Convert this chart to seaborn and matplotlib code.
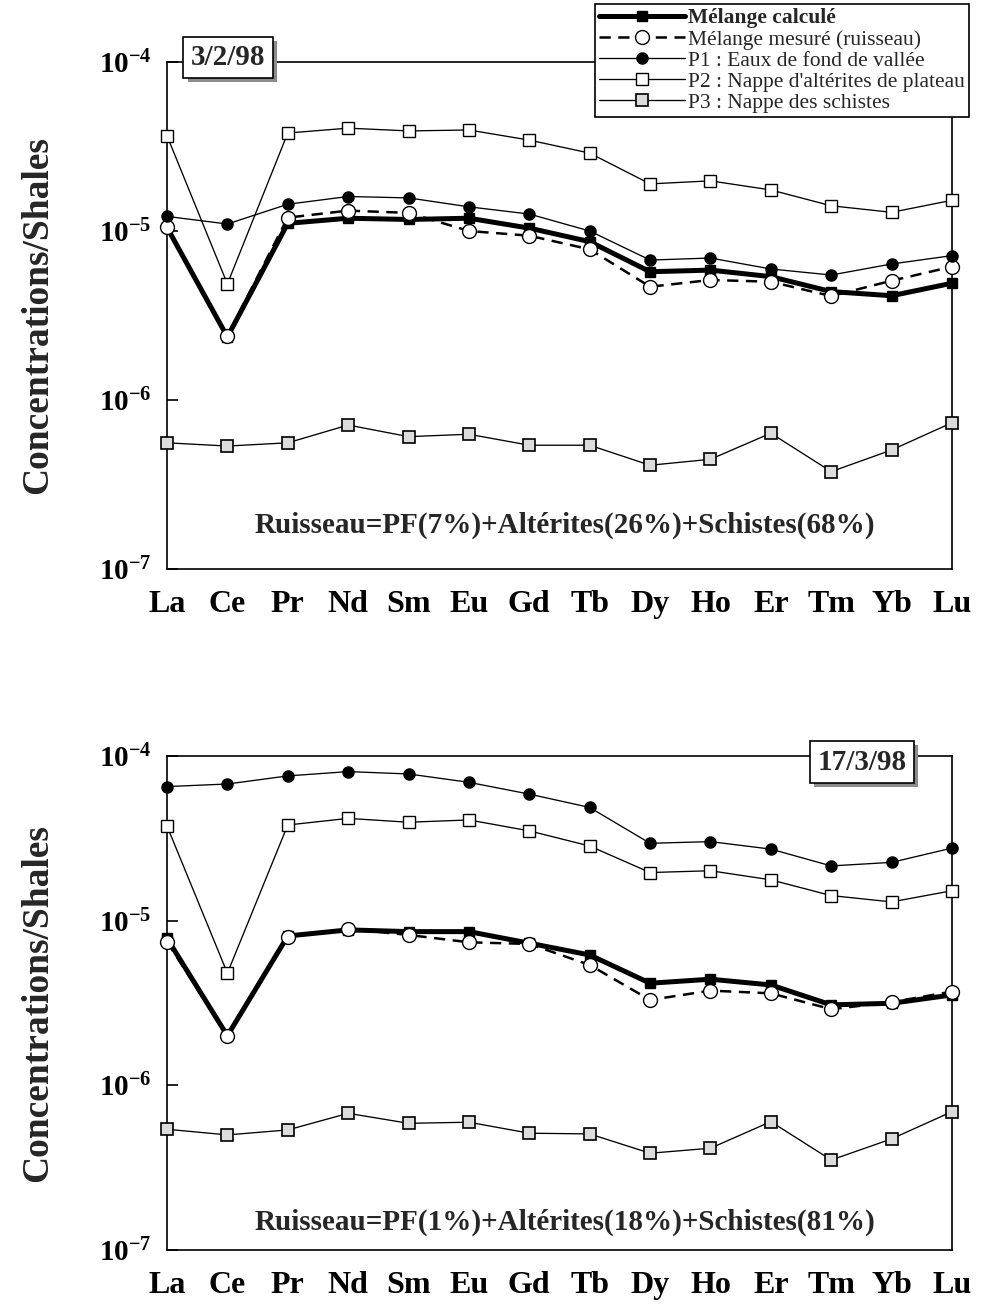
import numpy as np
import pandas as pd
import matplotlib
matplotlib.use('Agg')
import matplotlib.pyplot as plt
import matplotlib.patheffects as pe
from matplotlib.ticker import NullLocator
import seaborn as sns

# Style
sns.set_style("ticks")
plt.rcParams['font.family'] = ['Liberation Serif', 'DejaVu Serif']
plt.rcParams['mathtext.default'] = 'regular'

# Data
elements = ['La', 'Ce', 'Pr', 'Nd', 'Sm', 'Eu', 'Gd', 'Tb', 'Dy', 'Ho', 'Er', 'Tm', 'Yb', 'Lu']
y_ticks = [1e-7, 1e-6, 1e-5, 1e-4]
y_tick_labels = [r'$\mathdefault{10^{-7}}$', r'$\mathdefault{10^{-6}}$',
                 r'$\mathdefault{10^{-5}}$', r'$\mathdefault{10^{-4}}$']
series_names = ['Mélange calculé', 'Mélange mesuré (ruisseau)', 'P1 : Eaux de fond de vallée',
                "P2 : Nappe d'altérites de plateau", 'P3 : Nappe des schistes']

# 3/2/98
feb_calcule = [1.05e-5, 2.36e-6, 1.11e-5, 1.19e-5, 1.17e-5, 1.19e-5, 1.04e-5, 8.65e-6, 5.74e-6, 5.87e-6, 5.37e-6, 4.38e-6, 4.14e-6, 4.91e-6]
feb_mesure = [1.06e-5, 2.40e-6, 1.20e-5, 1.32e-5, 1.28e-5, 1.00e-5, 9.38e-6, 7.79e-6, 4.68e-6, 5.13e-6, 5.01e-6, 4.12e-6, 5.08e-6, 6.15e-6]
feb_p1 = [1.22e-5, 1.10e-5, 1.44e-5, 1.60e-5, 1.57e-5, 1.39e-5, 1.26e-5, 1.00e-5, 6.73e-6, 6.92e-6, 5.96e-6, 5.49e-6, 6.38e-6, 7.15e-6]
feb_p2 = [3.66e-5, 4.86e-6, 3.80e-5, 4.06e-5, 3.91e-5, 3.96e-5, 3.45e-5, 2.89e-5, 1.90e-5, 1.98e-5, 1.75e-5, 1.41e-5, 1.29e-5, 1.52e-5]
feb_p3 = [5.58e-7, 5.34e-7, 5.58e-7, 7.11e-7, 6.07e-7, 6.27e-7, 5.40e-7, 5.40e-7, 4.11e-7, 4.46e-7, 6.36e-7, 3.77e-7, 5.06e-7, 7.34e-7]

# 17/3/98
mar_calcule = [7.81e-6, 2.00e-6, 8.07e-6, 8.79e-6, 8.58e-6, 8.58e-6, 7.30e-6, 6.19e-6, 4.17e-6, 4.41e-6, 4.07e-6, 3.08e-6, 3.15e-6, 3.54e-6]
mar_mesure = [7.45e-6, 2.00e-6, 7.99e-6, 8.91e-6, 8.19e-6, 7.39e-6, 7.22e-6, 5.38e-6, 3.30e-6, 3.76e-6, 3.62e-6, 2.90e-6, 3.20e-6, 3.71e-6]
mar_p1 = [6.52e-5, 6.76e-5, 7.57e-5, 8.04e-5, 7.78e-5, 6.92e-5, 5.87e-5, 4.87e-5, 2.95e-5, 3.02e-5, 2.72e-5, 2.15e-5, 2.26e-5, 2.76e-5]
mar_p2 = [3.76e-5, 4.80e-6, 3.81e-5, 4.18e-5, 3.96e-5, 4.09e-5, 3.51e-5, 2.84e-5, 1.96e-5, 2.01e-5, 1.77e-5, 1.42e-5, 1.30e-5, 1.52e-5]
mar_p3 = [5.41e-7, 5.00e-7, 5.36e-7, 6.76e-7, 5.88e-7, 5.97e-7, 5.12e-7, 5.07e-7, 3.87e-7, 4.15e-7, 6.02e-7, 3.52e-7, 4.73e-7, 6.92e-7]

dates = ['3/2/98', '17/3/98']
notes = ['Ruisseau=PF(7%)+Altérites(26%)+Schistes(68%)',
         'Ruisseau=PF(1%)+Altérites(18%)+Schistes(81%)']
panels = [[feb_calcule, feb_mesure, feb_p1, feb_p2, feb_p3],
          [mar_calcule, mar_mesure, mar_p1, mar_p2, mar_p3]]

# line styles for each series (same order as series_names)
styles = [
    dict(lw=3.6, ls='-', marker='s', ms=6.5, mfc='black', mec='black'),
    dict(lw=1.8, ls=(0, (4.5, 3)), marker='o', ms=10, mfc='white', mec='black', mew=1.0),
    dict(lw=0.95, ls='-', marker='o', ms=8, mfc='black', mec='black'),
    dict(lw=0.95, ls='-', marker='s', ms=9, mfc='white', mec='black', mew=1.0),
    dict(lw=0.95, ls='-', marker='s', ms=8, mfc='#dcdcdc', mec='black', mew=1.2),
]

W, H = 996, 1304
fig = plt.figure(figsize=(W / 100, H / 100), dpi=100)
axes_px = [(62, 569), (756, 1250)]  # top/bottom pixel rows of each plot box
date_px = [(228, 57.5), (862, 762)]
note_py = [525, 1222]

x = np.arange(len(elements))
legend_lines = []
for i, (vals, (top, bot)) in enumerate(zip(panels, axes_px)):
    ax = fig.add_axes([167 / W, 1 - bot / H, 785 / W, (bot - top) / H])
    for j, (name, v, st) in enumerate(zip(series_names, vals, styles)):
        df = pd.DataFrame({'x': x, 'y': v})
        sns.lineplot(data=df, x='x', y='y', ax=ax, color='black', errorbar=None,
                     linewidth=st['lw'], linestyle=st['ls'], marker=st['marker'],
                     markersize=st['ms'], markerfacecolor=st['mfc'],
                     markeredgecolor=st['mec'], markeredgewidth=st.get('mew', 1.0),
                     clip_on=False, label=name, zorder=3 + j)
        if i == 0:
            legend_lines.append(ax.lines[-1])
    if ax.get_legend() is not None:
        ax.get_legend().remove()

    ax.set_yscale('log')
    ax.set_ylim(1e-7, 1e-4)
    ax.set_xlim(0, len(elements) - 1)
    ax.yaxis.set_minor_locator(NullLocator())
    ax.set_yticks(y_ticks, labels=y_tick_labels, fontsize=21, fontweight='bold')
    ax.set_xticks(x, labels=elements, fontsize=23, fontweight='bold')
    ax.tick_params(axis='y', direction='in', length=8, width=1.2, pad=11, colors='black')
    ax.tick_params(axis='x', length=0, pad=15, colors='black')
    for s in ax.spines.values():
        s.set_color('black')
        s.set_linewidth(1.2)
    ax.set_xlabel('')
    ax.set_ylabel('Concentrations/Shales', fontsize=27, fontweight='bold')
    ax.yaxis.set_label_coords(-0.143, 0.5)

    fig.text(565 / W, 1 - note_py[i] / H, notes[i], ha='center', va='center',
             fontsize=21, fontweight='bold')
    t = fig.text(date_px[i][0] / W, 1 - date_px[i][1] / H, dates[i], ha='center', va='center',
                 fontsize=21, fontweight='bold', zorder=10,
                 bbox=dict(boxstyle='square,pad=0.25', fc='white', ec='black', lw=1.2))
    t.get_bbox_patch().set_path_effects(
        [pe.withSimplePatchShadow(offset=(3, -3), shadow_rgbFace='0.55', alpha=1.0)])

leg = fig.legend(legend_lines, series_names, loc='upper left',
                 bbox_to_anchor=(595 / W, 1 - 4 / H), fontsize=15.5,
                 handlelength=4.0, handletextpad=0.1, labelspacing=0.05,
                 borderpad=0.2, borderaxespad=0, numpoints=1,
                 frameon=True, fancybox=False, framealpha=1, edgecolor='black')
leg.get_frame().set_linewidth(1.2)
leg.get_texts()[0].set_fontweight('bold')
leg.set_zorder(20)

fig.savefig('out.png', dpi=100)
